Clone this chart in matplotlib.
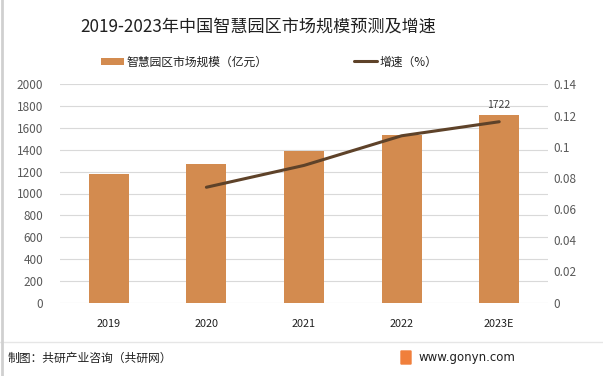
import matplotlib as mpl
import matplotlib.pyplot as plt
import numpy as np

plt.rcParams['font.family'] = ['Noto Sans CJK SC', 'DejaVu Sans']

TEXT_COLOR = '#404040'
BAR_COLOR = '#D38B4F'
LINE_COLOR = '#5E4229'
GRID_COLOR = '#D9D9D9'

years = ['2019', '2020', '2021', '2022', '2023E']
market_size = [1180, 1272, 1390, 1536, 1722]
growth_years = ['2020', '2021', '2022', '2023E']
growth = [0.074, 0.088, 0.107, 0.116]

left_ticks = [0, 200, 400, 600, 800, 1000, 1200, 1400, 1600, 1800, 2000]
right_ticks = [0, 0.02, 0.04, 0.06, 0.08, 0.1, 0.12, 0.14]
right_labels = ['0', '0.02', '0.04', '0.06', '0.08', '0.1', '0.12', '0.14']

fig = plt.figure(figsize=(6.03, 3.76), dpi=100)
ax1 = fig.add_axes([60 / 603, 1 - 302.7 / 376, 488 / 603, 218.4 / 376])
ax2 = ax1.twinx()

x = np.arange(len(years))
bars = ax1.bar(x, market_size, width=0.41, color=BAR_COLOR, zorder=2)
ax1.text(x[-1], market_size[-1] + 40, str(market_size[-1]), ha='center',
         va='bottom', fontsize=7.5, color=TEXT_COLOR)

gx = [years.index(y) for y in growth_years]
line, = ax2.plot(gx, growth, color=LINE_COLOR, linewidth=2.2,
                 solid_capstyle='round', zorder=3)

ax1.set_ylim(0, 2000)
ax1.set_yticks(left_ticks)
ax2.set_ylim(0, 0.14)
ax2.set_yticks(right_ticks)
ax2.set_yticklabels(right_labels)
ax1.set_xlim(-0.5, len(years) - 0.5)
ax1.set_xticks(x)
ax1.set_xticklabels(years)

ax1.grid(axis='y', color=GRID_COLOR, linewidth=0.8, zorder=0)
ax1.set_axisbelow(True)
for ax in (ax1, ax2):
    for s in ax.spines.values():
        s.set_visible(False)
    ax.tick_params(length=0, labelsize=8.5, colors='#595959')
ax1.tick_params(axis='x', colors='#202020', labelsize=7.8, pad=12)
ax1.tick_params(axis='y', pad=12)
ax2.tick_params(axis='y', pad=4)

fig.text(258 / 603, 1 - 28 / 376, '2019-2023年中国智慧园区市场规模预测及增速',
         ha='center', va='center', fontsize=12.3, color='#202020')

# legend placed by hand to match the wide spacing of the original
leg1 = fig.legend([bars], ['智慧园区市场规模（亿元）'], loc='center left',
                  bbox_to_anchor=(90 / 603, 1 - 62 / 376), frameon=False,
                  fontsize=8.5, handlelength=2.0, handleheight=0.6,
                  handletextpad=0.2, labelcolor='#202020')
leg2 = fig.legend([line], ['增速（%）'], loc='center left',
                  bbox_to_anchor=(343 / 603, 1 - 62 / 376), frameon=False,
                  fontsize=8.5, handlelength=2.0, handletextpad=0.2,
                  labelcolor='#202020')

# footer
fig.add_artist(plt.Line2D([0, 1], [1 - 342 / 376] * 2, color='#E6E6E6',
                          linewidth=1, transform=fig.transFigure))
fig.text(8 / 603, 1 - 358 / 376, '制图：共研产业咨询（共研网）', ha='left',
         va='center', fontsize=8.5, color='#202020')
fig.text(419 / 603, 1 - 357 / 376, 'www.gonyn.com', ha='left', va='center',
         fontsize=8.5, color='#202020', family='DejaVu Sans')
fig.add_artist(mpl.patches.FancyBboxPatch((401 / 603, 1 - 364 / 376), 10 / 603, 13 / 376,
                                          boxstyle='round,pad=0', color='#F07F3C',
                                          transform=fig.transFigure))
fig.add_artist(plt.Line2D([1.5 / 603] * 2, [0, 1], color='#D0D0D0', linewidth=2,
                          transform=fig.transFigure))

fig.savefig('out.png', dpi=100)
